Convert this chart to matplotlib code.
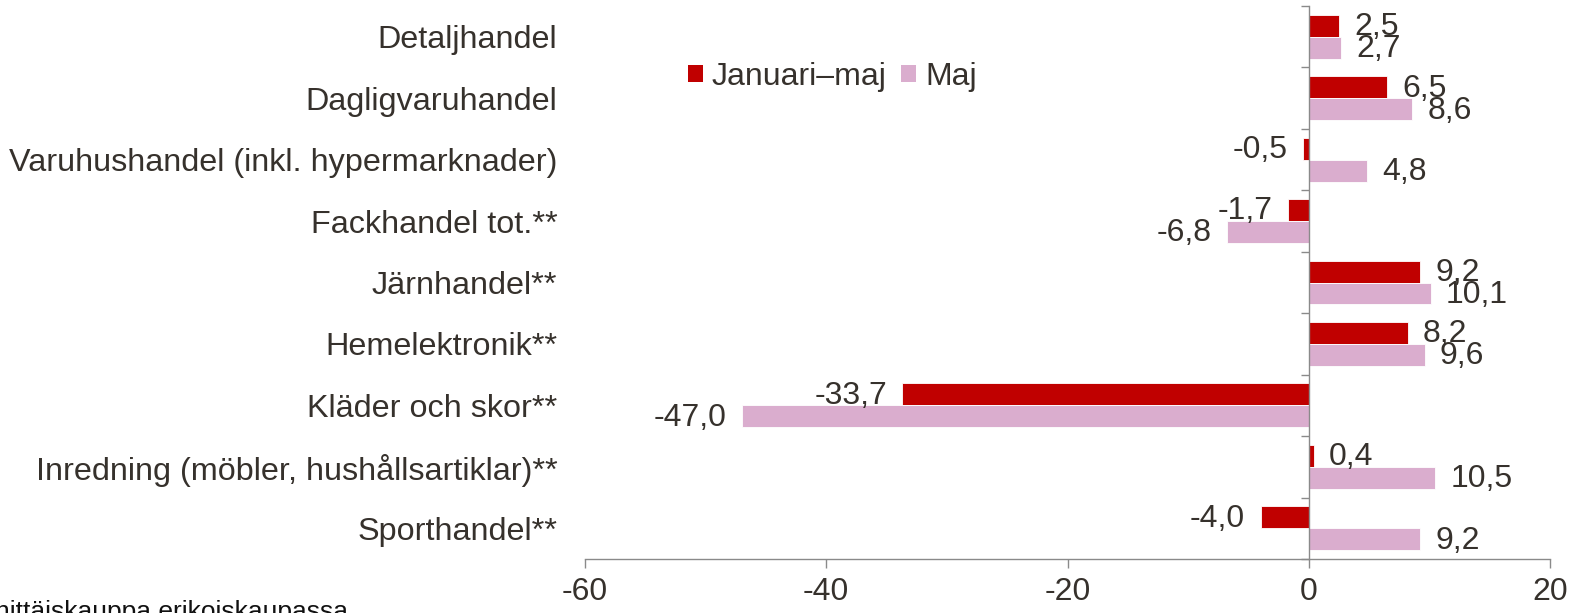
import matplotlib
matplotlib.use("Agg")
import matplotlib.pyplot as plt
from matplotlib.patches import Patch
import numpy as np

categories = ["Detaljhandel", "Dagligvaruhandel", "Varuhushandel (inkl. hypermarknader)",
              "Fackhandel tot.**", "Järnhandel**", "Hemelektronik**", "Kläder och skor**",
              "Inredning (möbler, hushållsartiklar)**", "Sporthandel**"]
jan_maj = [2.5, 6.5, -0.5, -1.7, 9.2, 8.2, -33.7, 0.4, -4.0]
maj = [2.7, 8.6, 4.8, -6.8, 10.1, 9.6, -47.0, 10.5, 9.2]
series_names = ["Januari–maj", "Maj"]
x_ticks = [-60, -40, -20, 0, 20]
footnote = "hittäiskauppa erikoiskaupassa"

RED = "#C00000"
PINK = "#DAADCE"
TXT = "#36312c"
AX = "#8a8a8a"

plt.rcParams['font.family'] = ['Liberation Sans', 'DejaVu Sans']

W, H = 1578, 613
fig = plt.figure(figsize=(W / 100, H / 100), dpi=100)
ax = fig.add_axes([585 / W, (H - 559) / H, (1550 - 585) / W, (559 - 6) / H])

y = np.arange(len(categories))
bh = 0.357
ax.barh(y - bh / 2, jan_maj, height=bh, color=RED, edgecolor="white", linewidth=0.6, label=series_names[0])
ax.barh(y + bh / 2, maj, height=bh, color=PINK, edgecolor="white", linewidth=0.6, label=series_names[1])

fs_num = 23
for yy, v in zip(y - bh / 2, jan_maj):
    off = 11 if v >= 0 else -11
    ax.annotate(f"{v:.1f}".replace(".", ","), (v, yy), xytext=(off, -1), textcoords="offset points",
                ha="left" if v >= 0 else "right", va="center", fontsize=fs_num, color=TXT)
for yy, v in zip(y + bh / 2, maj):
    off = 11 if v >= 0 else -11
    ax.annotate(f"{v:.1f}".replace(".", ","), (v, yy), xytext=(off, -1), textcoords="offset points",
                ha="left" if v >= 0 else "right", va="center", fontsize=fs_num, color=TXT)

ax.set_xlim(-60, 20)
ax.set_ylim(len(categories) - 0.5, -0.5)
ax.set_xticks(x_ticks)
ax.set_xticklabels([str(t) for t in x_ticks])
ax.set_yticks(y)
ax.set_yticklabels(categories)
ax.set_yticks(np.arange(-0.5, len(categories), 1.0), minor=True)

for s in ["top", "left"]:
    ax.spines[s].set_visible(False)
ax.spines["right"].set_position(("data", 0))
ax.spines["right"].set_color(AX)
ax.spines["bottom"].set_color(AX)
ax.spines["right"].set_linewidth(1.0)
ax.spines["bottom"].set_linewidth(1.0)

ax.tick_params(axis="x", direction="out", length=6.5, width=1.0, color=AX, pad=6.5,
               labelsize=23, labelcolor=TXT)
ax.tick_params(axis="y", which="major", left=True, right=False, length=0, pad=20,
               labelsize=23.3, labelcolor=TXT)
ax.tick_params(axis="y", which="minor", left=False, right=True, direction="in",
               length=6, width=1.0, color=AX)

handles = [Patch(facecolor=RED), Patch(facecolor=PINK)]
fig.legend(handles, series_names, loc="center left", bbox_to_anchor=(688 / W, 1 - 77 / H),
           ncol=2, frameon=False, fontsize=23, handlelength=0.47, handleheight=0.47,
           handletextpad=0.28, columnspacing=0.45, borderpad=0, borderaxespad=0, labelcolor=TXT)

fig.text(348 / W, (H - 619) / H, footnote, ha="right", va="baseline", fontsize=19, color="#111111")

fig.savefig("out.png", dpi=100)
